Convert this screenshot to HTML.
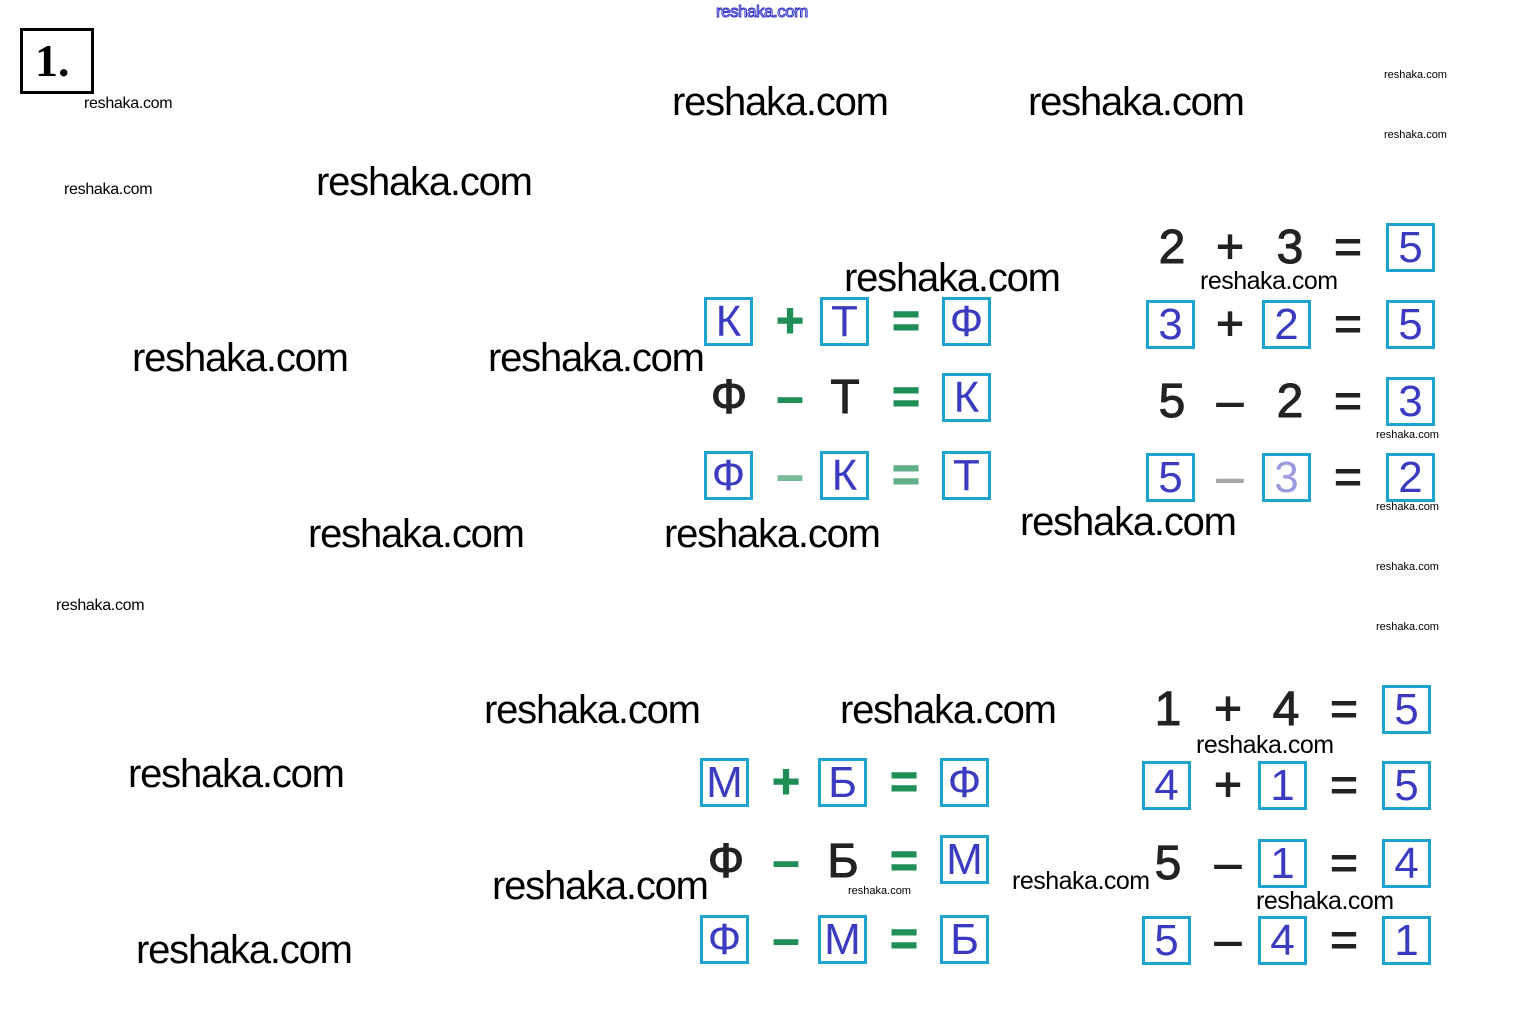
<!DOCTYPE html>
<html><head><meta charset="utf-8"><style>
body{margin:0;width:1530px;height:1026px;background:#fff;position:relative;overflow:hidden;font-family:"Liberation Sans",sans-serif}
div{position:absolute;white-space:nowrap}
.w{font-size:40px;line-height:40px;letter-spacing:-1.2px;color:#000}
.m{font-size:25px;line-height:25px;letter-spacing:-0.5px;color:#000}
.s{font-size:16px;line-height:16px;letter-spacing:-0.3px;color:#000}
.x{font-size:11px;line-height:11px;color:#000}
.b{width:43px;height:43px;border:3.5px solid #1ba4d2;color:#3b3bc2;font-size:44px;line-height:44px;text-align:center;background:#fff}
.g{width:50px;height:50px;line-height:50px;text-align:center;font-size:48px;color:#222;-webkit-text-stroke:1px #222}
.gr{color:#1f8f55;-webkit-text-stroke:1px #1f8f55;font-weight:bold}
</style></head><body>
<div style="left:20px;top:28px;width:68px;height:60px;border:3px solid #000;font-family:'Liberation Serif',serif;font-weight:bold;font-size:46px;line-height:60px;text-indent:12px">1.</div>
<div style="left:716px;top:2px;font-size:17px;color:#fff;-webkit-text-stroke:1px #3333cc;letter-spacing:-0.5px">reshaka.com</div>

<div class="b" style="left:704px;top:297px">К</div>
<div class="g gr" style="left:765px;top:297px">+</div>
<div class="b" style="left:820px;top:297px">Т</div>
<div class="g gr" style="left:881px;top:297px">=</div>
<div class="b" style="left:942px;top:297px">Ф</div>

<div class="g" style="left:704px;top:373px">Ф</div>
<div class="g gr" style="left:765px;top:373px">–</div>
<div class="g" style="left:820px;top:373px">Т</div>
<div class="g gr" style="left:881px;top:373px">=</div>
<div class="b" style="left:942px;top:373px">К</div>

<div class="b" style="left:704px;top:451px">Ф</div>
<div class="g gr" style="left:765px;top:451px;opacity:.6">–</div>
<div class="b" style="left:820px;top:451px">К</div>
<div class="g gr" style="left:881px;top:451px;opacity:.7">=</div>
<div class="b" style="left:942px;top:451px">Т</div>

<div class="g" style="left:1147px;top:223px">2</div>
<div class="g" style="left:1205px;top:223px">+</div>
<div class="g" style="left:1265px;top:223px">3</div>
<div class="g" style="left:1323px;top:223px">=</div>
<div class="b" style="left:1386px;top:223px">5</div>

<div class="b" style="left:1146px;top:300px">3</div>
<div class="g" style="left:1205px;top:300px">+</div>
<div class="b" style="left:1262px;top:300px">2</div>
<div class="g" style="left:1323px;top:300px">=</div>
<div class="b" style="left:1386px;top:300px">5</div>

<div class="g" style="left:1147px;top:377px">5</div>
<div class="g" style="left:1205px;top:377px">–</div>
<div class="g" style="left:1265px;top:377px">2</div>
<div class="g" style="left:1323px;top:377px">=</div>
<div class="b" style="left:1386px;top:377px">3</div>

<div class="b" style="left:1146px;top:453px">5</div>
<div class="g" style="left:1205px;top:453px;opacity:.4">–</div>
<div class="b" style="left:1262px;top:453px;color:#9a9ae0">3</div>
<div class="g" style="left:1323px;top:453px">=</div>
<div class="b" style="left:1386px;top:453px">2</div>

<div class="b" style="left:700px;top:758px">М</div>
<div class="g gr" style="left:761px;top:758px">+</div>
<div class="b" style="left:818px;top:758px">Б</div>
<div class="g gr" style="left:879px;top:758px">=</div>
<div class="b" style="left:940px;top:758px">Ф</div>

<div class="g" style="left:701px;top:837px">Ф</div>
<div class="g gr" style="left:761px;top:837px">–</div>
<div class="g" style="left:818px;top:837px">Б</div>
<div class="g gr" style="left:879px;top:837px">=</div>
<div class="b" style="left:940px;top:835px">М</div>

<div class="b" style="left:700px;top:915px">Ф</div>
<div class="g gr" style="left:761px;top:915px">–</div>
<div class="b" style="left:818px;top:915px">М</div>
<div class="g gr" style="left:879px;top:915px">=</div>
<div class="b" style="left:940px;top:915px">Б</div>

<div class="g" style="left:1143px;top:685px">1</div>
<div class="g" style="left:1203px;top:685px">+</div>
<div class="g" style="left:1261px;top:685px">4</div>
<div class="g" style="left:1319px;top:685px">=</div>
<div class="b" style="left:1382px;top:685px">5</div>

<div class="b" style="left:1142px;top:761px">4</div>
<div class="g" style="left:1203px;top:761px">+</div>
<div class="b" style="left:1258px;top:761px">1</div>
<div class="g" style="left:1319px;top:761px">=</div>
<div class="b" style="left:1382px;top:761px">5</div>

<div class="g" style="left:1143px;top:839px">5</div>
<div class="g" style="left:1203px;top:839px">–</div>
<div class="b" style="left:1258px;top:839px">1</div>
<div class="g" style="left:1319px;top:839px">=</div>
<div class="b" style="left:1382px;top:839px">4</div>

<div class="b" style="left:1142px;top:916px">5</div>
<div class="g" style="left:1203px;top:916px">–</div>
<div class="b" style="left:1258px;top:916px">4</div>
<div class="g" style="left:1319px;top:916px">=</div>
<div class="b" style="left:1382px;top:916px">1</div>

<div class="w" style="left:672px;top:82px">reshaka.com</div>
<div class="w" style="left:1028px;top:82px">reshaka.com</div>
<div class="w" style="left:316px;top:162px">reshaka.com</div>
<div class="w" style="left:844px;top:258px">reshaka.com</div>
<div class="w" style="left:132px;top:338px">reshaka.com</div>
<div class="w" style="left:488px;top:338px">reshaka.com</div>
<div class="w" style="left:308px;top:514px">reshaka.com</div>
<div class="w" style="left:664px;top:514px">reshaka.com</div>
<div class="w" style="left:1020px;top:502px">reshaka.com</div>
<div class="w" style="left:484px;top:690px">reshaka.com</div>
<div class="w" style="left:840px;top:690px">reshaka.com</div>
<div class="w" style="left:128px;top:754px">reshaka.com</div>
<div class="w" style="left:492px;top:866px">reshaka.com</div>
<div class="w" style="left:136px;top:930px">reshaka.com</div>
<div class="m" style="left:1200px;top:269px">reshaka.com</div>
<div class="m" style="left:1196px;top:733px">reshaka.com</div>
<div class="m" style="left:1012px;top:869px">reshaka.com</div>
<div class="m" style="left:1256px;top:889px">reshaka.com</div>
<div class="s" style="left:84px;top:96px">reshaka.com</div>
<div class="s" style="left:64px;top:182px">reshaka.com</div>
<div class="s" style="left:56px;top:598px">reshaka.com</div>
<div class="x" style="left:1384px;top:70px">reshaka.com</div>
<div class="x" style="left:1384px;top:130px">reshaka.com</div>
<div class="x" style="left:1376px;top:430px">reshaka.com</div>
<div class="x" style="left:1376px;top:502px">reshaka.com</div>
<div class="x" style="left:1376px;top:562px">reshaka.com</div>
<div class="x" style="left:1376px;top:622px">reshaka.com</div>
<div class="x" style="left:848px;top:886px">reshaka.com</div>
</body></html>
